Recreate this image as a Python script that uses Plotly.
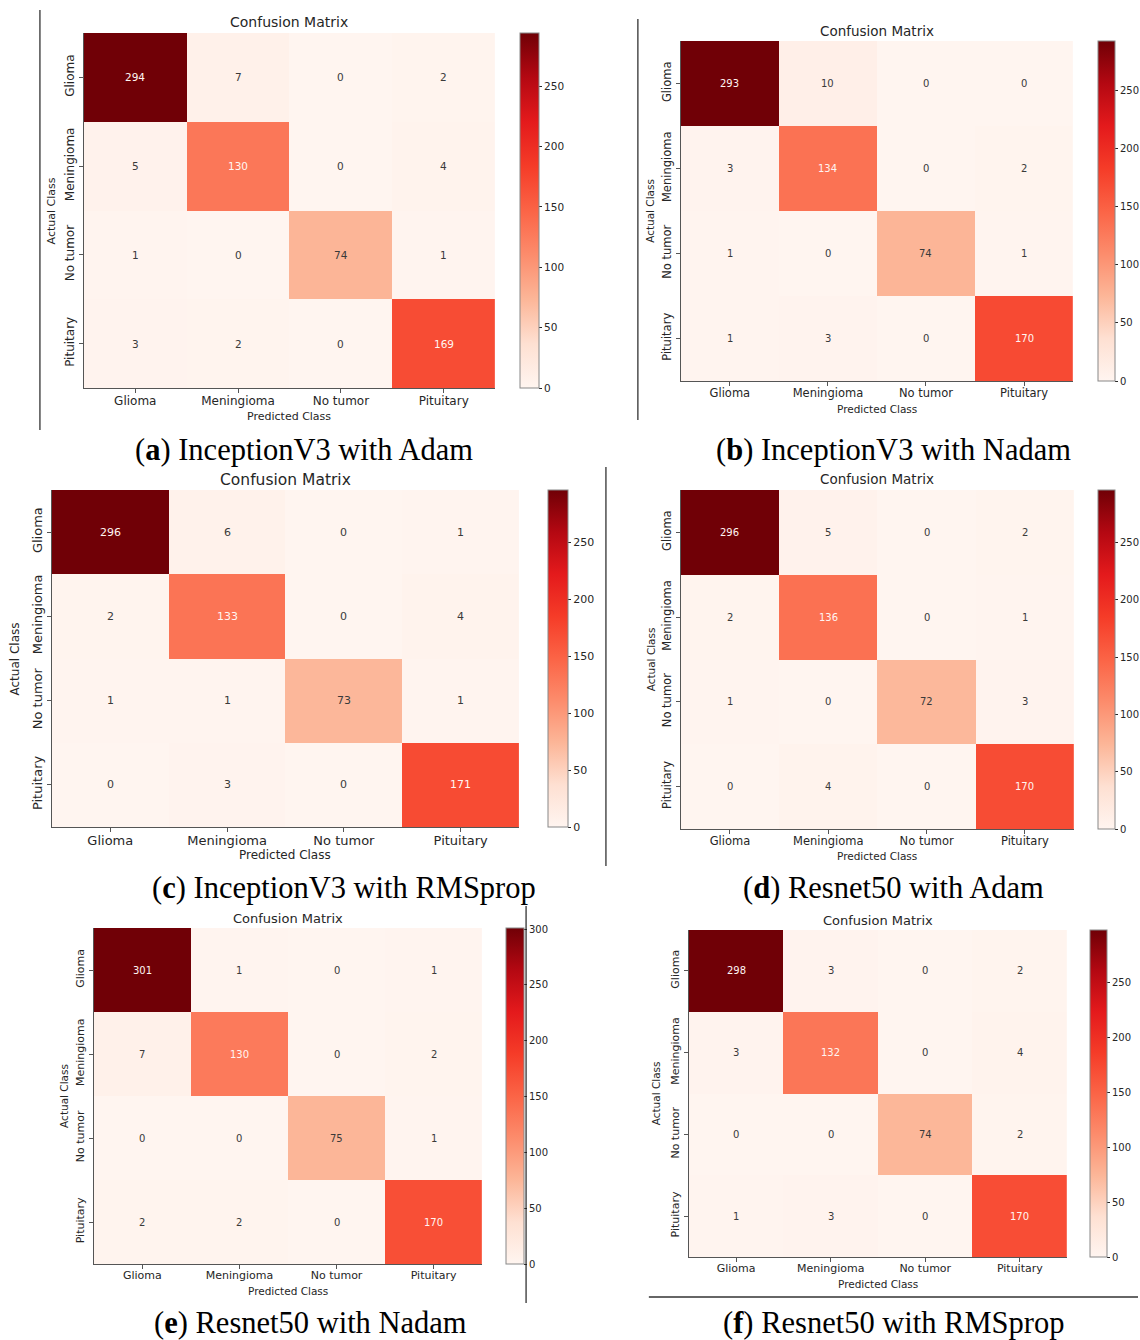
import plotly.graph_objects as go

# ---------------- data ----------------
classes = ["Glioma", "Meningioma", "No tumor", "Pituitary"]

cm_a = [[294, 7, 0, 2], [5, 130, 0, 4], [1, 0, 74, 1], [3, 2, 0, 169]]
cm_b = [[293, 10, 0, 0], [3, 134, 0, 2], [1, 0, 74, 1], [1, 3, 0, 170]]
cm_c = [[296, 6, 0, 1], [2, 133, 0, 4], [1, 1, 73, 1], [0, 3, 0, 171]]
cm_d = [[296, 5, 0, 2], [2, 136, 0, 1], [1, 0, 72, 3], [0, 4, 0, 170]]
cm_e = [[301, 1, 0, 1], [7, 130, 0, 2], [0, 0, 75, 1], [2, 2, 0, 170]]
cm_f = [[298, 3, 0, 2], [3, 132, 0, 4], [0, 0, 74, 2], [1, 3, 0, 170]]

matrices = [cm_a, cm_b, cm_c, cm_d, cm_e, cm_f]
letters = ["a", "b", "c", "d", "e", "f"]
captions = ["InceptionV3 with Adam", "InceptionV3 with Nadam", "InceptionV3 with RMSprop",
            "Resnet50 with Adam", "Resnet50 with Nadam", "Resnet50 with RMSprop"]
colorbar_ticks = [0, 50, 100, 150, 200, 250, 300]
title_text = "Confusion Matrix"
xlabel_text = "Predicted Class"
ylabel_text = "Actual Class"

# ---------------- layout geometry (pixels) ----------------
W, H = 1140, 1340
panels = [
    dict(l=84, r=496, t=33, b=388, cbx=521, cbw=19, ty=22, ylx=52, xly=416, cx=305, cy=450, tick=12, ttl=14, lab=11, ann=10.5, cbt=10.5),
    dict(l=682, r=1075, t=41, b=381, cbx=1100, cbw=17, ty=31, ylx=651, xly=409, cx=895, cy=450, tick=11.5, ttl=13.5, lab=10.5, ann=10, cbt=10),
    dict(l=52, r=520, t=490, b=827, cbx=549, cbw=20, ty=480, ylx=15, xly=855, cx=345, cy=888, tick=13, ttl=15.5, lab=12, ann=11, cbt=11),
    dict(l=682, r=1076, t=490, b=829, cbx=1100, cbw=17, ty=479, ylx=652, xly=856, cx=895, cy=888, tick=11.5, ttl=13.5, lab=10.5, ann=10, cbt=10),
    dict(l=94, r=483, t=928, b=1264, cbx=507, cbw=18, ty=918, ylx=64, xly=1291, cx=311, cy=1323, tick=11, ttl=13, lab=10.5, ann=10, cbt=10),
    dict(l=690, r=1069, t=930, b=1257, cbx=1092, cbw=17, ty=920, ylx=657, xly=1284, cx=895, cy=1323, tick=11, ttl=13, lab=10.5, ann=10, cbt=10),
]

REDS = [
    [0.0, "rgb(255,245,240)"],
    [0.125, "rgb(254,224,210)"],
    [0.25, "rgb(252,182,152)"],
    [0.375, "rgb(252,140,108)"],
    [0.5, "rgb(251,100,70)"],
    [0.625, "rgb(245,60,40)"],
    [0.75, "rgb(228,26,28)"],
    [0.875, "rgb(180,8,18)"],
    [1.0, "rgb(112,0,6)"],
]

SANS = "DejaVu Sans"
SERIF = "Liberation Serif"
DARK = "#262626"
AXC = "#555555"


def fx(px):
    return px / W


def fy(py):
    return 1 - py / H


fig = go.Figure()
annotations = []
layout = {}

for i, (cm, p) in enumerate(zip(matrices, panels), start=1):
    xa = "x" if i == 1 else f"x{i}"
    ya = "y" if i == 1 else f"y{i}"
    zmax = max(max(row) for row in cm)
    fig.add_trace(go.Heatmap(
        z=cm, x=classes, y=classes, xaxis=xa, yaxis=ya,
        colorscale=REDS, zmin=0, zmax=zmax, hoverinfo="z",
        colorbar=dict(
            x=fx(p["cbx"]), xanchor="left", xpad=0,
            y=fy(p["t"]), yanchor="top", ypad=0,
            len=(p["b"] - p["t"]) / H, lenmode="fraction",
            thickness=p["cbw"], thicknessmode="pixels",
            outlinewidth=1, outlinecolor="#888888",
            tickmode="array", tickvals=colorbar_ticks,
            ticks="outside", ticklen=3, tickcolor=DARK,
            tickfont=dict(family=SANS, size=p["cbt"], color=DARK),
        ),
    ))
    xkey = "xaxis" if i == 1 else f"xaxis{i}"
    ykey = "yaxis" if i == 1 else f"yaxis{i}"
    layout[xkey] = dict(
        domain=[fx(p["l"]), fx(p["r"])], anchor=ya,
        showline=True, linecolor=AXC, linewidth=1.3, mirror=False,
        ticks="outside", ticklen=4, tickcolor=AXC, showgrid=False, zeroline=False,
        ticklabelstandoff=-3,
        tickfont=dict(family=SANS, size=p["tick"], color=DARK),
        categoryorder="array", categoryarray=classes,
    )
    layout[ykey] = dict(
        domain=[fy(p["b"]), fy(p["t"])], anchor=xa,
        showline=True, linecolor=AXC, linewidth=1.3,
        ticks="outside", ticklen=4, tickcolor=AXC, showgrid=False, zeroline=False,
        tickangle=-90, autorange="reversed",
        tickfont=dict(family=SANS, size=p["tick"], color=DARK),
        categoryorder="array", categoryarray=classes,
    )
    for r, row in enumerate(cm):
        for c, v in enumerate(row):
            annotations.append(dict(
                x=classes[c], y=classes[r], xref=xa, yref=ya, text=str(v), showarrow=False,
                font=dict(family=SANS, size=p["ann"], color="#fff5f2" if v > 0.35 * zmax else "#3a3a3a"),
            ))
    cxm = (p["l"] + p["r"]) / 2
    annotations.append(dict(x=fx(cxm), y=fy(p["ty"]), xref="paper", yref="paper", text=title_text,
                            showarrow=False, xanchor="center", yanchor="middle",
                            font=dict(family=SANS, size=p["ttl"], color=DARK)))
    annotations.append(dict(x=fx(cxm), y=fy(p["xly"]), xref="paper", yref="paper", text=xlabel_text,
                            showarrow=False, xanchor="center", yanchor="middle",
                            font=dict(family=SANS, size=p["lab"], color=DARK)))
    annotations.append(dict(x=fx(p["ylx"]), y=fy((p["t"] + p["b"]) / 2), xref="paper", yref="paper",
                            text=ylabel_text, textangle=-90, showarrow=False,
                            xanchor="center", yanchor="middle",
                            font=dict(family=SANS, size=p["lab"], color=DARK)))
    annotations.append(dict(x=fx(p["cx"]), y=fy(p["cy"]), xref="paper", yref="paper",
                            text=f"(<b>{letters[i-1]}</b>) {captions[i-1]}", showarrow=False,
                            xanchor="center", yanchor="middle",
                            font=dict(family=SERIF, size=30.5, color="black")))

sep_lines = [
    (40, 10, 40, 430), (639, 19, 639, 420), (607, 467, 607, 866),
    (527, 906, 527, 1303), (650, 1297, 1140, 1297),
]
shapes = [dict(type="line", xref="paper", yref="paper", x0=fx(a), y0=fy(b), x1=fx(c), y1=fy(d),
               line=dict(color="#333333", width=1.3)) for a, b, c, d in sep_lines]

fig.update_layout(
    width=W, height=H, margin=dict(l=0, r=0, t=0, b=0),
    paper_bgcolor="white", plot_bgcolor="white",
    annotations=annotations, shapes=shapes, showlegend=False,
    **layout,
)

fig.write_html("out.html", config={"displayModeBar": False},
               post_script="document.body.style.margin='0px';")
